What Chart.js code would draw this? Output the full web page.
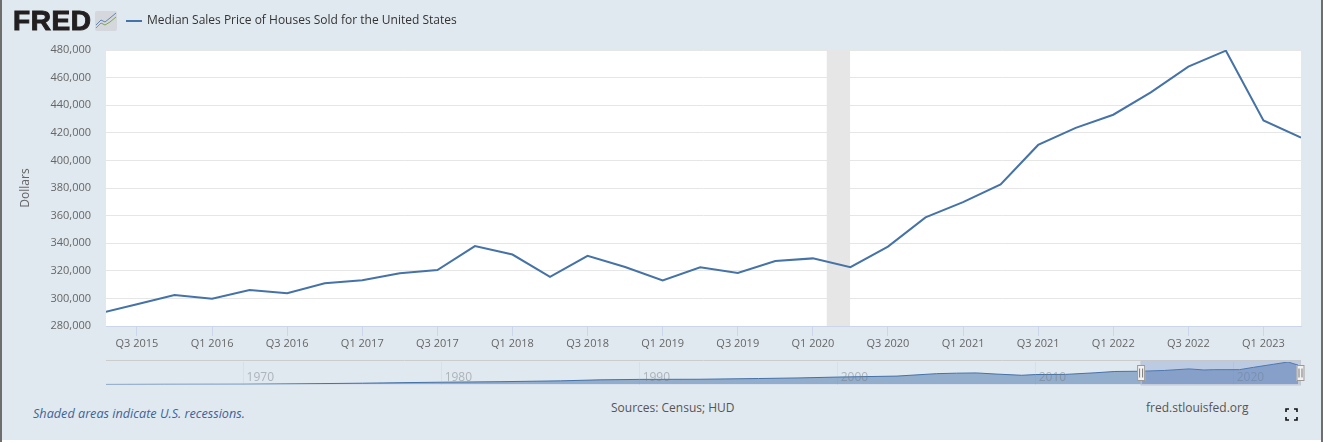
<!DOCTYPE html>
<html>
<head>
<meta charset="utf-8">
<title>Median Sales Price of Houses Sold for the United States</title>
<script src="https://cdn.jsdelivr.net/npm/chart.js@4"></script>
<style>
    html, body { margin: 0; padding: 0; background: #fff; }
    #wrap { position: relative; width: 1323px; height: 442px; overflow: hidden; font-family: "Open Sans", sans-serif; }
    #panel { position: absolute; left: 2px; top: 0; width: 1319px; height: 440px; background: #e1e9f0; }
    #edgeL { position: absolute; left: 0; top: 0; width: 2px; height: 442px; background: #6e6e6e; }
    #edgeR { position: absolute; left: 1321px; top: 0; width: 2px; height: 442px; background: #6e6e6e; }
    canvas { position: absolute; left: 0; }
    #mainChart { top: 0; }
    #navChart { top: 355px; }
    .txt { position: absolute; white-space: nowrap; line-height: 1; }
    #logo { left: 13px; top: 7px; font-family: "Liberation Sans", sans-serif; font-weight: 700; font-size: 28px; letter-spacing: 0.6px; color: #231f20; -webkit-text-stroke: 1px #231f20; }
    #legendLine { position: absolute; left: 126px; top: 20px; width: 16px; height: 2px; background: #4572a7; }
    #legendText { left: 147px; top: 14px; font-size: 12px; color: #333; }
    #note { left: 33px; top: 407px; font-size: 12.65px; font-style: italic; color: #3e6399; }
    #source { left: 611px; top: 402px; font-size: 12px; color: #555; }
    #site { left: 1146px; top: 402px; font-size: 12px; color: #555; }
    #logoIcon, #fullBtn { position: absolute; }
    #logoIcon { left: 95px; top: 11px; }
    #fullBtn { left: 1285px; top: 408px; }
</style>
</head>
<body>
<div id="wrap">
    <div id="panel"></div>
    <div id="edgeL"></div>
    <div id="edgeR"></div>
    <canvas id="mainChart" width="1323" height="360"></canvas>
    <canvas id="navChart" width="1323" height="40"></canvas>
    <div class="txt" id="logo">FRED</div>
    <svg id="logoIcon" width="22" height="20" viewBox="0 0 22 20">
        <rect width="22" height="20" rx="2" fill="#d4d8dc"/>
        <polyline points="1,14 6,9 10,11 15,7 21,2" fill="none" stroke="#5f86b5" stroke-width="1"/>
        <polyline points="1,17 6,12 10,14 15,11 21,6" fill="none" stroke="#7fa653" stroke-width="1"/>
    </svg>
    <div id="legendLine"></div>
    <div class="txt" id="legendText">Median Sales Price of Houses Sold for the United States</div>
    <div class="txt" id="note">Shaded areas indicate U.S. recessions.</div>
    <div class="txt" id="source">Sources: Census; HUD</div>
    <div class="txt" id="site">fred.stlouisfed.org</div>
    <svg id="fullBtn" width="13" height="13" viewBox="0 0 13 13">
        <path d="M1 4V1H4M9 1H12V4M12 9V12H9M4 12H1V9" fill="none" stroke="#111" stroke-width="1.6"/>
    </svg>
</div>
<script>
// Quarterly values
const quarters = ['Q2 2015', 'Q3 2015', 'Q4 2015', 'Q1 2016', 'Q2 2016', 'Q3 2016', 'Q4 2016', 'Q1 2017', 'Q2 2017', 'Q3 2017', 'Q4 2017',
    'Q1 2018', 'Q2 2018', 'Q3 2018', 'Q4 2018', 'Q1 2019', 'Q2 2019', 'Q3 2019', 'Q4 2019', 'Q1 2020', 'Q2 2020', 'Q3 2020', 'Q4 2020',
    'Q1 2021', 'Q2 2021', 'Q3 2021', 'Q4 2021', 'Q1 2022', 'Q2 2022', 'Q3 2022', 'Q4 2022', 'Q1 2023', 'Q2 2023'];
const prices = [289200, 295800, 302500, 299800, 306000, 303800, 310900, 313100, 318200, 320500, 337900,
    331800, 315600, 330900, 322800, 313000, 322500, 318400, 327100, 329000, 322600, 337500, 358700,
    369800, 382600, 411200, 423600, 433100, 449300, 468000, 479500, 429000, 416500];

// Recession band, in quarters from Q3 2015
const recessionStart = 18.37;
const recessionEnd = 18.99;

// Navigator overview (whole series)
const navYears = [1963, 1966, 1970, 1973, 1976, 1978, 1980, 1983, 1986, 1988, 1990, 1993, 1996, 1998, 2000, 2003, 2005, 2006, 2007, 2008, 2009.3, 2010, 2011.5, 2013, 2014, 2015.3, 2016.5, 2017.75, 2018.5, 2019, 2020.3, 2021, 2022, 2022.75, 2023.25];
const navPrices = [18000, 21000, 23000, 32000, 44000, 55000, 64000, 75000, 92000, 113000, 122000, 125000, 140000, 152000, 170000, 190000, 240000, 250000, 255000, 232000, 207000, 222000, 225000, 258000, 285000, 290000, 306000, 338000, 316000, 322000, 323000, 370000, 433000, 479500, 416500];
const navTicks = [1970, 1980, 1990, 2000, 2010, 2020];
const selectedFrom = 2015.3;
const selectedTo = 2023.4;

const FONT = '"Open Sans", sans-serif';
const AREA_LEFT = 106;

const recessionBand = {
    id: 'recessionBand',
    beforeDatasetsDraw(chart) {
        const { ctx, chartArea, scales } = chart;
        const x0 = scales.x.getPixelForValue(recessionStart);
        const x1 = scales.x.getPixelForValue(recessionEnd);
        ctx.save();
        ctx.fillStyle = '#e6e6e6';
        ctx.fillRect(x0, chartArea.top, x1 - x0, chartArea.height);
        ctx.restore();
    }
};

const plotBackground = {
    id: 'plotBackground',
    beforeDraw(chart) {
        const { ctx, chartArea } = chart;
        ctx.save();
        ctx.fillStyle = '#ffffff';
        ctx.fillRect(chartArea.left, chartArea.top, chartArea.width, chartArea.height);
        ctx.restore();
    }
};

new Chart(document.getElementById('mainChart'), {
    type: 'line',
    data: {
        datasets: [{
            data: prices.map((p, i) => ({ x: i - 1, y: p })),
            borderColor: '#4572a7',
            borderWidth: 2,
            pointRadius: 0,
            tension: 0
        }]
    },
    plugins: [plotBackground, recessionBand],
    options: {
        responsive: false,
        animation: false,
        layout: { padding: { top: 50, left: 0, right: 22, bottom: 0 } },
        plugins: { legend: { display: false }, tooltip: { enabled: false } },
        scales: {
            x: {
                type: 'linear',
                min: -0.825,
                max: 31,
                afterBuildTicks: s => {
                    s.ticks = quarters.map((q, i) => ({ value: i - 1 })).filter(t => t.value >= 0 && t.value % 2 === 0);
                },
                afterFit: s => { s.height = 34; },
                border: { color: '#ccd6eb', width: 1 },
                grid: { drawOnChartArea: false, color: '#ccd6eb', tickLength: 10 },
                ticks: {
                    maxRotation: 0,
                    autoSkip: false,
                    color: '#666',
                    font: { family: FONT, size: 11 },
                    padding: 1,
                    callback: v => quarters[v + 1]
                }
            },
            y: {
                min: 280000,
                max: 480000,
                afterFit: s => { s.width = AREA_LEFT; },
                border: { display: false },
                grid: { color: '#e6e6e6', drawTicks: false },
                title: { display: true, text: 'Dollars', color: '#666', font: { family: FONT, size: 12 }, padding: { top: 18, bottom: 0 } },
                ticks: {
                    stepSize: 20000,
                    padding: 15,
                    color: '#666',
                    font: { family: FONT, size: 11 },
                    callback: v => v.toLocaleString('en-US')
                }
            }
        }
    }
});

const navDecor = {
    id: 'navDecor',
    beforeDatasetsDraw(chart) {
        const { ctx, chartArea } = chart;
        ctx.save();
        ctx.strokeStyle = '#cccccc';
        ctx.lineWidth = 1;
        ctx.beginPath();
        ctx.moveTo(chartArea.left, 5.5);
        ctx.lineTo(chartArea.right, 5.5);
        ctx.stroke();
        ctx.restore();
    },
    afterDatasetsDraw(chart) {
        const { ctx, chartArea, scales } = chart;
        // year labels sit over the area
        ctx.save();
        ctx.font = '12px ' + FONT;
        ctx.fillStyle = 'rgba(120,125,130,0.5)';
        ctx.textAlign = 'left';
        ctx.textBaseline = 'middle';
        navTicks.forEach(t => ctx.fillText(String(t), scales.x.getPixelForValue(t) + 3, 22.5));

        const x0 = scales.x.getPixelForValue(selectedFrom);
        const x1 = scales.x.getPixelForValue(selectedTo);
        ctx.fillStyle = 'rgba(102,133,194,0.3)';
        ctx.fillRect(x0, 6, x1 - x0, chartArea.bottom - 6);
        ctx.strokeStyle = '#c4c7cc';
        ctx.lineWidth = 1;
        ctx.strokeRect(x0 + 0.5, 5.5, x1 - x0 - 1, chartArea.bottom - 5);
        [x0 + 0.5, x1 - 0.5].forEach(x => {
            ctx.fillStyle = '#f2f2f2';
            ctx.strokeStyle = '#999';
            ctx.fillRect(x - 4, 10, 8, 16);
            ctx.strokeRect(x - 3.5, 10.5, 7, 15);
            ctx.strokeStyle = '#777';
            ctx.beginPath();
            ctx.moveTo(x - 1.5, 13.5); ctx.lineTo(x - 1.5, 22.5);
            ctx.moveTo(x + 1.5, 13.5); ctx.lineTo(x + 1.5, 22.5);
            ctx.stroke();
        });
        ctx.restore();
    }
};

new Chart(document.getElementById('navChart'), {
    type: 'line',
    data: {
        datasets: [{
            data: navYears.map((y, i) => ({ x: y, y: navPrices[i] })),
            borderColor: '#4572a7',
            borderWidth: 1,
            backgroundColor: 'rgba(69,114,167,0.5)',
            fill: 'start',
            pointRadius: 0,
            tension: 0
        }]
    },
    plugins: [navDecor],
    options: {
        responsive: false,
        animation: false,
        layout: { padding: { top: 7, left: AREA_LEFT, right: 22, bottom: 10.5 } },
        plugins: { legend: { display: false }, tooltip: { enabled: false } },
        scales: {
            x: {
                type: 'linear',
                min: 1963.05,
                max: 2023.4,
                afterBuildTicks: s => { s.ticks = navTicks.map(value => ({ value })); },
                afterFit: s => { s.height = 0; },
                border: { display: false },
                grid: { color: 'rgba(200,205,210,0.35)', drawTicks: false },
                ticks: { display: false }
            },
            y: { min: 17000, max: 480000, display: false }
        }
    }
});
</script>
</body>
</html>
